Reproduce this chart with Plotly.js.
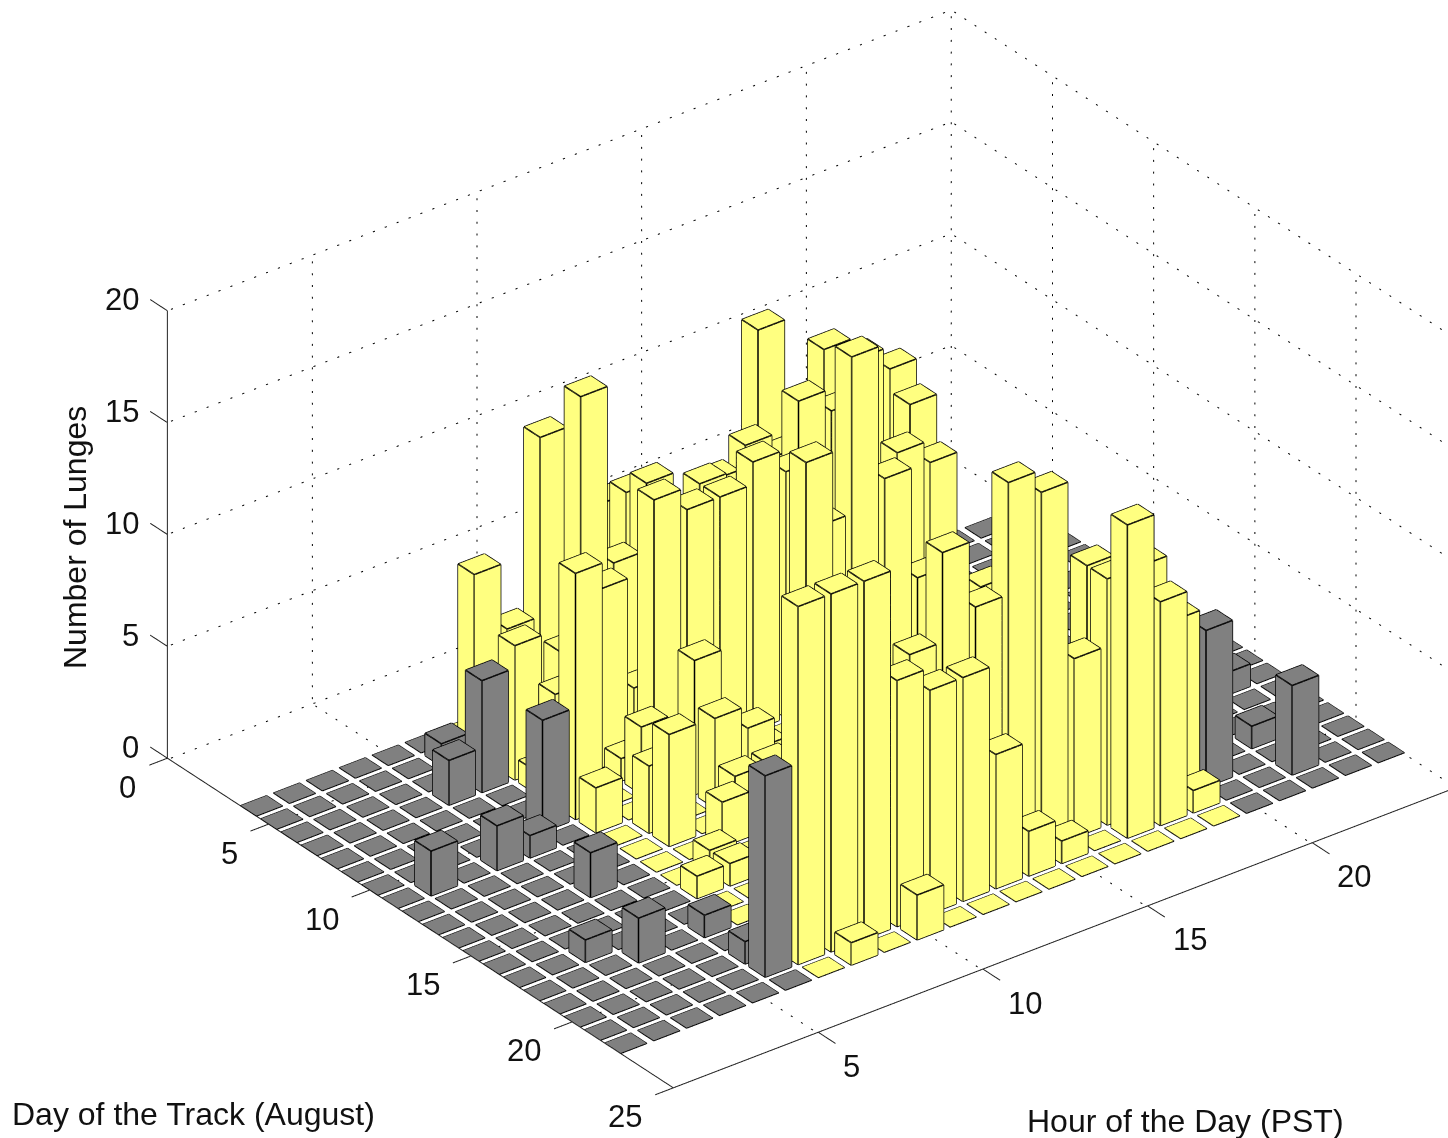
<!DOCTYPE html>
<html><head><meta charset="utf-8"><style>html,body{margin:0;padding:0;background:#fff}#c{width:1448px;height:1138px}</style>
<script src="https://cdn.plot.ly/plotly-3.0.1.min.js"></script></head><body><div id="c"></div>
<script>
const hours=[1,2,3,4,5,6,7,8,9,10,11,12,13,14,15,16,17,18,19,20,21,22,23,24];
const dayNumbers=[4,5,6,7,8,9,10,11,12,13,14,15,16,17,18,19,20,21,22];
const day04=[0,0,0,0,0,0,0,0,0,0,0,0,0,0,0,0,0,0,0,0,0,0,0,0];
const day05=[0,0,0,0,0,1,8,5,13,0,9,0,0,0,0,0,0,0,0,0,0,0,0,0];
const day06=[0,0,0,0,0,0,0,0,4,0,10,0,0,0,15,0,13,12,11,0,0,0,0,0];
const day07=[0,0,0,0,2,5,6,0,16,8,11,0,10,11,10,0,0,0,10,0,0,0,0,0];
const day08=[0,0,0,0,0,0,1,0,8,3,0,11,0,0,13,12,0,9,8,0,0,0,0,0];
const day09=[0,0,0,0,0,0,5,0,1,12,11,11,12,11,8,15,9,4,0,0,0,0,0,0];
const day10=[0,0,0,0,0,5,11,0,3,0,0,0,0,12,0,0,0,0,0,0,0,0,0,0];
const day11=[0,2,0,2,1,0,2,0,0,6,0,1,0,0,0,0,0,0,0,0,0,0,0,0];
const day12=[0,0,0,0,0,0,0,3,0,4,3,0,0,0,0,0,0,0,0,0,0,0,0,0];
const day13=[0,0,0,0,0,0,0,5,0,2,2,0,0,0,0,0,0,0,0,0,0,0,0,0];
const day14=[0,0,0,0,2,0,0,0,2,0,0,0,0,0,0,0,0,0,0,0,0,0,0,0];
const day15=[0,0,0,0,0,0,0,1,0,0,0,0,0,0,0,0,0,0,0,0,0,0,0,0];
const day16=[0,0,0,0,0,0,1,1,0,0,0,0,0,0,0,0,0,0,0,0,0,0,1,0];
const day17=[0,0,1,0,0,0,0,0,0,0,0,0,0,0,10,0,0,0,0,0,0,0,0,0];
const day18=[0,0,0,2,0,1,0,0,0,0,0,0,0,0,0,0,0,0,0,0,0,0,0,0];
const day19=[0,0,0,0,0,0,0,0,0,0,0,9,0,0,0,0,11,0,0,0,0,1,0,0];
const day20=[0,0,0,0,0,1,0,0,0,0,11,15,12,17,16,8,11,11,8,7,0,0,0,0];
const day21=[0,0,0,0,0,9,16,16,16,11,10,10,6,2,1,0,14,10,1,0,0,4,0,0];
const day22=[0,0,0,0,0,0,0,1,0,2,0,0,0,0,0,0,0,0,0,0,0,0,0,0];
const lungeRows=[day04,day05,day06,day07,day08,day09,day10,day11,day12,day13,day14,day15,day16,day17,day18,day19,day20,day21,day22];
const hourTicks=[5,10,15,20], dayTicks=[0,5,10,15,20,25], zTicks=[0,5,10,15,20];
const xMin=0.6,xMax=24.4,yMin=0,yMax=25,zMax=20,halfW=0.4,floorZ=-0.06;
const YEL='#FFFF80',GRY='#808080';
function isDay(h){return h>=7&&h<=19;}
function emptyMesh(color){return {type:'mesh3d',x:[],y:[],z:[],i:[],j:[],k:[],color:color,flatshading:true,hoverinfo:'skip',showscale:false,
  lighting:{ambient:1,diffuse:0,specular:0,roughness:1,fresnel:0,facenormalsepsilon:0,vertexnormalsepsilon:0},lightposition:{x:0,y:0,z:1000}};}
const mY=emptyMesh(YEL),mG=emptyMesh(GRY);
const ex=[],ey=[],ez=[],cx=[],cy=[],cz=[];
function seg(a,b){ex.push(a[0],b[0],null);ey.push(a[1],b[1],null);ez.push(a[2],b[2],null);}
function cseg(a,b){cx.push(a[0],b[0],null);cy.push(a[1],b[1],null);cz.push(a[2],b[2],null);}
function addBar(m,h,d,v){
  const x0=h-halfW,x1=h+halfW,y0=d-halfW,y1=d+halfW,b=m.x.length;
  const p=[[x0,y0,0],[x1,y0,0],[x1,y1,0],[x0,y1,0],[x0,y0,v],[x1,y0,v],[x1,y1,v],[x0,y1,v]];
  p.forEach(q=>{m.x.push(q[0]);m.y.push(q[1]);m.z.push(q[2]);});
  const f=v>0?[[4,5,6],[4,6,7],[0,1,5],[0,5,4],[1,2,6],[1,6,5],[2,3,7],[2,7,6],[3,0,4],[3,4,7]]:[[4,5,6],[4,6,7]];
  f.forEach(t=>{m.i.push(b+t[0]);m.j.push(b+t[1]);m.k.push(b+t[2]);});
  if(v>0){seg(p[4],p[5]);seg(p[5],p[6]);seg(p[6],p[7]);seg(p[7],p[4]);seg(p[4],p[0]);seg(p[7],p[3]);seg(p[6],p[2]);seg(p[0],p[3]);seg(p[3],p[2]);}
  else {cseg(p[4],p[5]);cseg(p[5],p[6]);cseg(p[6],p[7]);cseg(p[7],p[4]);}
}
lungeRows.forEach((row,r)=>row.forEach((v,c)=>addBar(isDay(hours[c])?mY:mG,hours[c],dayNumbers[r],v)));
const edges={type:'scatter3d',mode:'lines',x:ex,y:ey,z:ez,line:{color:'#000',width:3},hoverinfo:'skip',showlegend:false};
const cellEdges={type:'scatter3d',mode:'lines',x:cx,y:cy,z:cz,line:{color:'#000',width:2},hoverinfo:'skip',showlegend:false};
const gx=[],gy=[],gz=[];
function gseg(a,b,period){
  const n=Math.max(1,Math.round(period));
  for(let t=0.3;t<n;t++){
    const s0=t/n,s1=(t+0.17)/n;
    gx.push(a[0]+(b[0]-a[0])*s0,a[0]+(b[0]-a[0])*s1,null);
    gy.push(a[1]+(b[1]-a[1])*s0,a[1]+(b[1]-a[1])*s1,null);
    gz.push(a[2]+(b[2]-a[2])*s0,a[2]+(b[2]-a[2])*s1,null);
  }
}
const nH=(xMax-xMin)/0.36,nD=(yMax-yMin)/0.5,nZ=zMax/0.52;
zTicks.forEach(z=>{const q=z===0?floorZ:z;gseg([xMin,yMin,q],[xMax,yMin,q],nH);gseg([xMax,yMin,q],[xMax,yMax,q],nD);});
hourTicks.forEach(h=>{gseg([h,yMin,0],[h,yMin,zMax],nZ);gseg([h,yMin,floorZ],[h,yMax,floorZ],nD);});
dayTicks.slice(0,5).forEach(d=>{gseg([xMax,d,0],[xMax,d,zMax],nZ);if(d>0)gseg([xMin,d,floorZ],[xMax,d,floorZ],nH);});
const grid={type:'scatter3d',mode:'lines',x:gx,y:gy,z:gz,line:{color:'#000',width:2},hoverinfo:'skip',showlegend:false};
const ax=[],ay=[],az=[];
function aseg(a,b){ax.push(a[0],b[0],null);ay.push(a[1],b[1],null);az.push(a[2],b[2],null);}
aseg([xMin,yMin,0],[xMin,yMin,zMax]);aseg([xMin,yMin,0],[xMin,yMax,0]);aseg([xMin,yMax,0],[xMax,yMax,0]);
zTicks.forEach(z=>aseg([xMin,yMin,z],[xMin,yMin-0.85,z]));
dayTicks.forEach(d=>aseg([xMin,d,0],[xMin-0.55,d,0]));
hourTicks.forEach(h=>aseg([h,yMax,0],[h,yMax+0.85,0]));
const axes={type:'scatter3d',mode:'lines',x:ax,y:ay,z:az,line:{color:'#222',width:2},hoverinfo:'skip',showlegend:false};
const tickFont={family:'"Liberation Sans",Arial,sans-serif',size:31,color:'#111'};
const font={family:'"Liberation Sans",Arial,sans-serif',size:32,color:'#111'};
const sa=[];
zTicks.forEach(z=>sa.push({x:xMin,y:yMin,z:z,text:String(z),showarrow:false,xanchor:'right',yanchor:'middle',xshift:-26,yshift:11,font:tickFont}));
dayTicks.forEach(d=>sa.push({x:xMin,y:d,z:0,text:String(d),showarrow:false,xanchor:'right',yanchor:'middle',xshift:-29,yshift:-29,font:tickFont}));
hourTicks.forEach(h=>sa.push({x:h,y:yMax,z:0,text:String(h),showarrow:false,xanchor:'left',yanchor:'middle',xshift:23,yshift:-34,font:tickFont}));
const bare={visible:true,showgrid:false,zeroline:false,showline:false,showticklabels:false,ticks:'',showbackground:false,showspikes:false,title:{text:''}};
const phi=37.5*Math.PI/180,th=30*Math.PI/180;
const e=[-Math.sin(phi)*Math.cos(th),-Math.cos(phi)*Math.cos(th),Math.sin(th)];
const r=[Math.cos(phi),-Math.sin(phi),0],u=[Math.sin(phi)*Math.sin(th),Math.cos(phi)*Math.sin(th),Math.cos(th)];
const K=567, sx=88, sy=20, F=1.97;
const c=[0,1,2].map(i=>-(sx*r[i]+sy*u[i])/K);
const D=5;
const layout={width:1448,height:1138,margin:{l:0,r:0,t:0,b:0},paper_bgcolor:'#fff',showlegend:false,
 scene:{domain:{x:[0,1],y:[0,1]},aspectmode:'manual',aspectratio:{x:F,y:0.86*F,z:0.507*F},
  xaxis:Object.assign({},bare,{range:[-1,26]}),yaxis:Object.assign({},bare,{range:[27,-2]}),zaxis:Object.assign({},bare,{range:[-1,21]}),
  camera:{projection:{type:'orthographic'},up:{x:0,y:0,z:1},center:{x:c[0],y:c[1],z:c[2]},eye:{x:c[0]+D*e[0],y:c[1]+D*e[1],z:c[2]+D*e[2]}},
  annotations:sa},
 annotations:[
  {xref:'paper',yref:'paper',x:75/1448,y:1-538/1138,xanchor:'center',yanchor:'middle',text:'Number of Lunges',textangle:-90,showarrow:false,font},
  {xref:'paper',yref:'paper',x:193/1448,y:1-1114/1138,xanchor:'center',yanchor:'middle',text:'Day of the Track (August)',showarrow:false,font},
  {xref:'paper',yref:'paper',x:1185/1448,y:1-1121/1138,xanchor:'center',yanchor:'middle',text:'Hour of the Day (PST)',showarrow:false,font}]};
Plotly.newPlot('c',[mY,mG,cellEdges,edges,grid,axes],layout,{displayModeBar:false});
</script></body></html>
